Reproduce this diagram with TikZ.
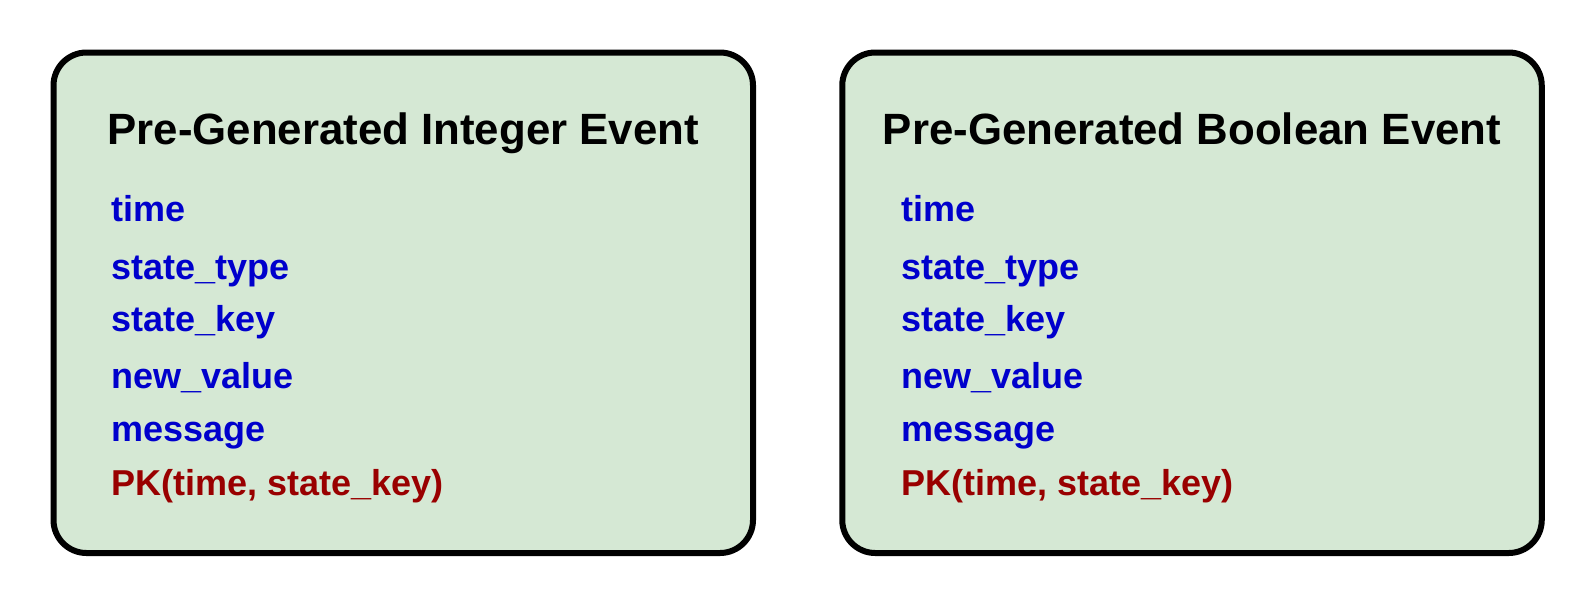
\documentclass[tikz,border=0pt]{standalone}
\usepackage{fontspec}
\setmainfont{Liberation Sans}

\definecolor{boxgreen}{HTML}{D5E8D4}
\definecolor{fieldblue}{HTML}{0000CC}
\definecolor{keyred}{HTML}{990000}

\begin{document}
\begin{tikzpicture}[x=1pt,y=-1pt,
	table/.style={draw=black,line width=6pt,fill=boxgreen,rounded corners=33pt,
		minimum width=699.5pt,minimum height=500.5pt,inner sep=0pt},
	tabletitle/.style={anchor=base,inner sep=0pt,font=\fontsize{43.8}{50}\selectfont\bfseries},
	field/.style={anchor=base west,inner sep=0pt,text=fieldblue,font=\fontsize{36}{42}\selectfont\bfseries}]

\useasboundingbox (0,0) rectangle (1594,606);

\foreach \kind/\cx/\fx in {Integer/403.25/111, Boolean/1192/901} {
	\node[table] (box\kind) at (\cx,302.75) {};
	\node[tabletitle] (title\kind) at (\cx,144.3) {Pre-Generated \kind{} Event};
	\foreach \f/\n/\y in {time/time/221.7, state\_type/type/279.3, state\_key/key/331.7,
			new\_value/value/388.3, message/msg/441.7} {
		\node[field] (\n\kind) at (\fx,\y) {\f};
	}
	\node[field,text=keyred] (pk\kind) at (\fx,495) {PK(time, state\_key)};
}

\end{tikzpicture}
\end{document}
